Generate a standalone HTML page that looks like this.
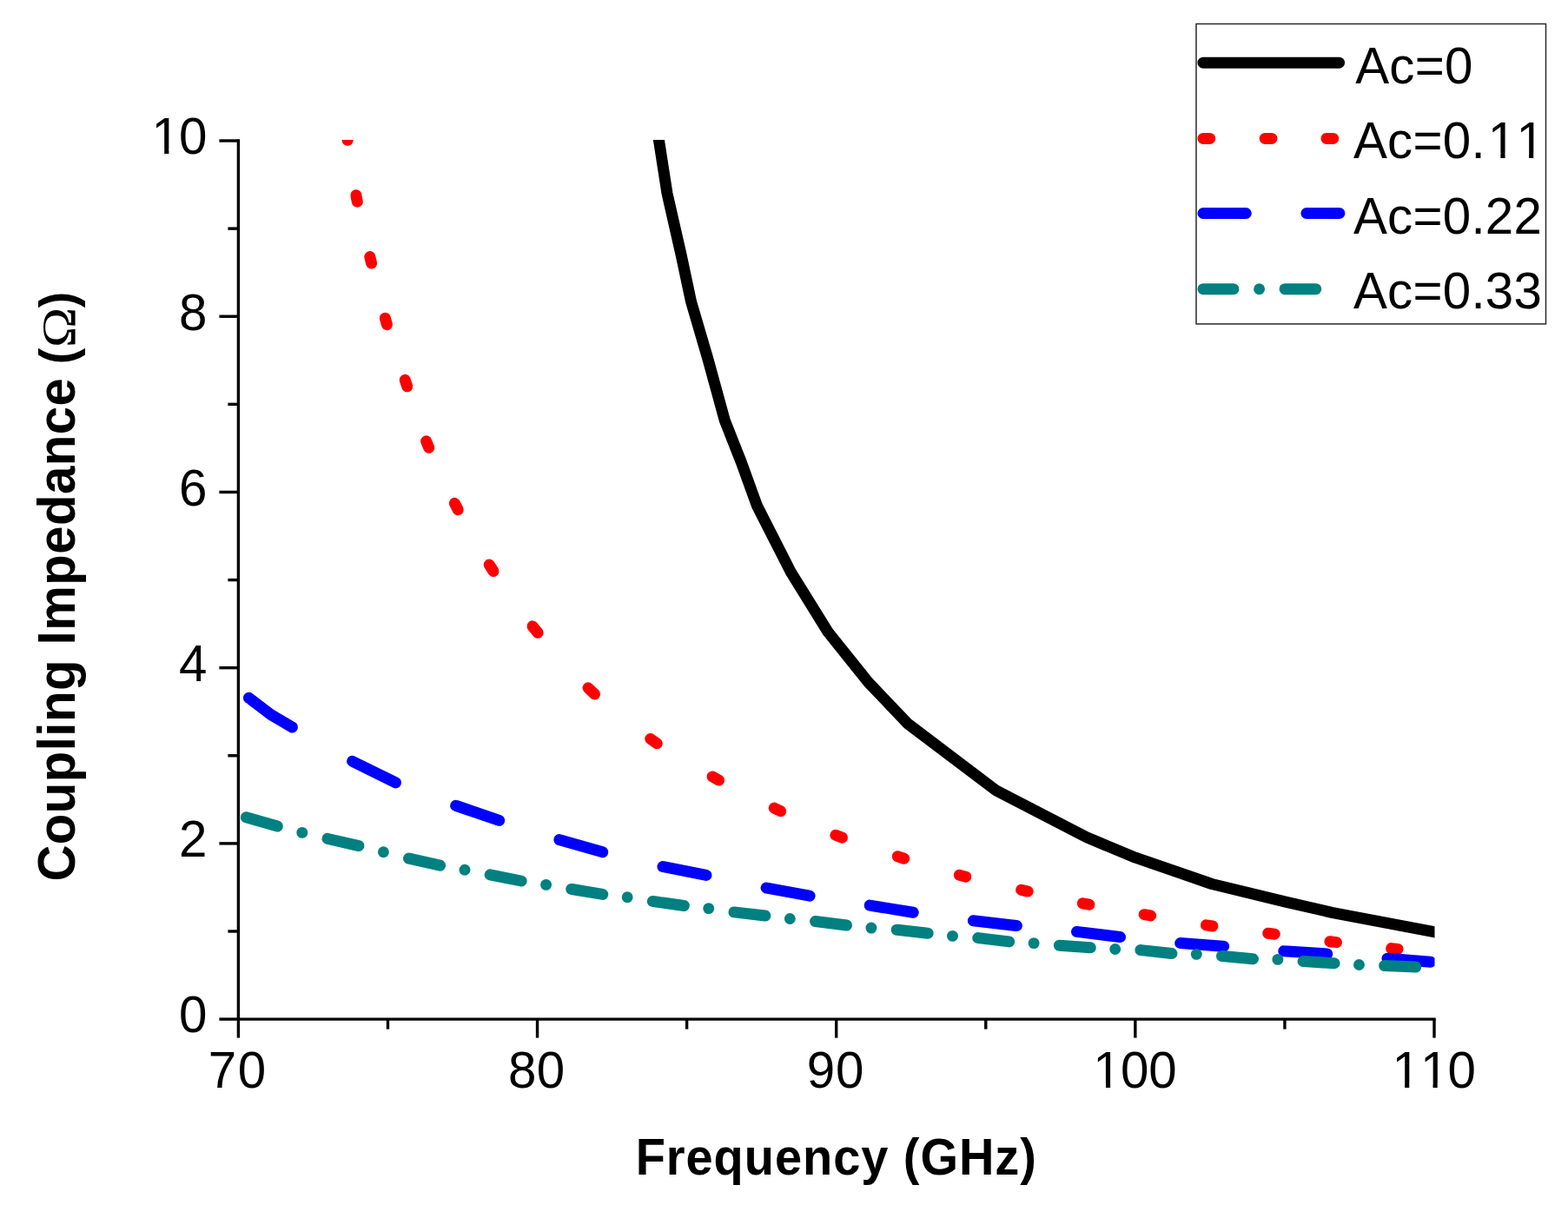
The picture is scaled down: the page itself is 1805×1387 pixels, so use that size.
<!DOCTYPE html>
<html lang="en"><head><meta charset="utf-8"><title>Coupling Impedance vs Frequency</title>
<style>html,body{margin:0;padding:0;background:#fff;}body{width:1805px;height:1387px;overflow:hidden;}svg{display:block;}text{font-family:"Liberation Sans",sans-serif;fill:#000;font-kerning:none;font-variant-ligatures:none;}.b{font-weight:bold;}.om{font-family:"Liberation Serif",serif;font-weight:normal;}</style></head><body>
<svg width="1805" height="1387" viewBox="0 0 1805 1387">
<rect x="0" y="0" width="1805" height="1387" fill="#fff"/>
<defs><clipPath id="plot"><rect x="274.4" y="161" width="1377.1" height="1012.1"/></clipPath></defs>
<g clip-path="url(#plot)" fill="none" stroke-linejoin="round">
<polyline stroke="#000" stroke-width="13" points="752,120 758.4,161 767.9,222.1 784.3,294.2 795.5,347 814.6,412.1 834.4,484.2 853.3,532 871.4,582 910.3,658.4 953,727.2 999.5,785.3 1045,833 1146,909.4 1250.9,963.8 1307.1,987.2 1395,1017.5 1480,1038.1 1533,1050.3 1660,1074.4"/>
<g stroke="#f00" stroke-width="13" stroke-linecap="round">
<line x1="398.91" y1="153.85" x2="400.09" y2="161.35"/>
<line x1="409.88" y1="224.65" x2="411.32" y2="232.15"/>
<line x1="425.8" y1="295.55" x2="427.6" y2="303.05"/>
<line x1="443.32" y1="366.15" x2="445.48" y2="373.65"/>
<line x1="466.24" y1="437.35" x2="468.76" y2="444.85"/>
<line x1="490.67" y1="507.85" x2="493.73" y2="515.35"/>
<line x1="523.36" y1="579.35" x2="527.24" y2="586.85"/>
<line x1="563.19" y1="650.05" x2="568.01" y2="657.55"/>
<line x1="613.05" y1="720.85" x2="619.15" y2="728.35"/>
<line x1="677.05" y1="791.87" x2="684.55" y2="798.93"/>
<line x1="748.75" y1="850.46" x2="756.25" y2="855.74"/>
<line x1="820.05" y1="893.92" x2="827.55" y2="898.08"/>
<line x1="891.15" y1="930.14" x2="898.65" y2="933.66"/>
<line x1="961.95" y1="961.25" x2="969.45" y2="964.15"/>
<line x1="1033.25" y1="985.8" x2="1040.75" y2="988.2"/>
<line x1="1104.35" y1="1007.19" x2="1111.85" y2="1009.21"/>
<line x1="1175.65" y1="1024.35" x2="1183.15" y2="1026.05"/>
<line x1="1246.35" y1="1039.76" x2="1253.85" y2="1041.24"/>
<line x1="1317.15" y1="1052.64" x2="1324.65" y2="1053.96"/>
<line x1="1388.45" y1="1064.84" x2="1395.95" y2="1065.96"/>
<line x1="1459.75" y1="1074.21" x2="1467.25" y2="1075.19"/>
<line x1="1530.95" y1="1083.74" x2="1538.45" y2="1084.66"/>
<line x1="1601.65" y1="1091.59" x2="1609.15" y2="1092.41"/>
</g>
<g stroke="#00f" stroke-width="13" stroke-linecap="round">
<polyline points="286.4,803.3 286.6,803.3 311.9,822.7 336.1,836.8 336.4,836.97"/>
<polyline points="405.54,876.27 455.54,900.87"/>
<polyline points="524.68,927.26 525.3,927.5 574.68,944.32"/>
<polyline points="643.82,966.61 644.4,966.8 693.82,980.82"/>
<polyline points="762.96,997.5 763.8,997.7 812.96,1007.39"/>
<polyline points="882.1,1022.05 882.8,1022.2 932.1,1031.15"/>
<polyline points="1001.24,1042.12 1051.24,1050.26"/>
<polyline points="1120.38,1059.74 1169.8,1065.5 1170.38,1065.56"/>
<polyline points="1239.52,1072.41 1289.2,1078.5 1289.52,1078.53"/>
<polyline points="1358.66,1085.6 1408,1089.3 1408.66,1089.35"/>
<polyline points="1477.8,1094.69 1477.9,1094.7 1527.2,1097.9 1527.8,1097.95"/>
<polyline points="1596.94,1103.3 1646.94,1107.18"/>
</g>
<g stroke="#008080" stroke-width="13" stroke-linecap="round">
<polyline points="283.4,940.8 319.4,951.06"/>
<circle cx="347.8" cy="958.4" r="6.45" fill="#008080" stroke="none"/>
<polyline points="376.99,965.38 377.5,965.5 412.99,973.56"/>
<circle cx="441.39" cy="980.77" r="6.45" fill="#008080" stroke="none"/>
<polyline points="470.58,988.12 470.9,988.2 506.58,996.2"/>
<circle cx="534.98" cy="1001.28" r="6.45" fill="#008080" stroke="none"/>
<polyline points="564.17,1006.85 600,1014 600.17,1014.03"/>
<circle cx="628.57" cy="1018.33" r="6.45" fill="#008080" stroke="none"/>
<polyline points="657.76,1023.39 658.4,1023.5 693.76,1029.41"/>
<circle cx="722.16" cy="1032.74" r="6.45" fill="#008080" stroke="none"/>
<polyline points="751.35,1037.41 751.9,1037.5 787.35,1042.46"/>
<circle cx="815.75" cy="1045.65" r="6.45" fill="#008080" stroke="none"/>
<polyline points="844.94,1049.9 880.6,1054 880.94,1054.04"/>
<circle cx="909.34" cy="1057.49" r="6.45" fill="#008080" stroke="none"/>
<polyline points="938.53,1060.53 974.53,1065.03"/>
<circle cx="1002.93" cy="1068.07" r="6.45" fill="#008080" stroke="none"/>
<polyline points="1032.12,1070.23 1033.1,1070.3 1068.1,1074.2 1068.12,1074.2"/>
<circle cx="1096.52" cy="1077.34" r="6.45" fill="#008080" stroke="none"/>
<polyline points="1125.71,1079.57 1126.1,1079.6 1161.71,1083.89"/>
<circle cx="1190.11" cy="1085.59" r="6.45" fill="#008080" stroke="none"/>
<polyline points="1219.3,1088.21 1255.2,1090.8 1255.3,1090.81"/>
<circle cx="1283.7" cy="1092.48" r="6.45" fill="#008080" stroke="none"/>
<polyline points="1312.89,1093.57 1313.6,1093.6 1348.89,1097.46"/>
<circle cx="1377.29" cy="1098.37" r="6.45" fill="#008080" stroke="none"/>
<polyline points="1406.48,1100.45 1407.2,1100.5 1442.2,1103.8 1442.48,1103.81"/>
<circle cx="1470.88" cy="1104.39" r="6.45" fill="#008080" stroke="none"/>
<polyline points="1500.07,1106.56 1500.6,1106.6 1535.6,1108.7 1536.07,1108.73"/>
<circle cx="1564.47" cy="1110.5" r="6.45" fill="#008080" stroke="none"/>
<polyline points="1593.66,1111.5 1629.66,1113.09"/>
</g>
</g>
<g stroke="#000" stroke-width="3.4" stroke-linecap="butt" fill="none">
<line x1="274.4" y1="160.3" x2="274.4" y2="1174.8"/>
<line x1="272.7" y1="1173.1" x2="1652.7" y2="1173.1"/>
<line x1="252.4" y1="1173.1" x2="274.4" y2="1173.1"/>
<line x1="262.4" y1="1071.99" x2="274.4" y2="1071.99"/>
<line x1="252.4" y1="970.88" x2="274.4" y2="970.88"/>
<line x1="262.4" y1="869.77" x2="274.4" y2="869.77"/>
<line x1="252.4" y1="768.66" x2="274.4" y2="768.66"/>
<line x1="262.4" y1="667.55" x2="274.4" y2="667.55"/>
<line x1="252.4" y1="566.44" x2="274.4" y2="566.44"/>
<line x1="262.4" y1="465.33" x2="274.4" y2="465.33"/>
<line x1="252.4" y1="364.22" x2="274.4" y2="364.22"/>
<line x1="262.4" y1="263.11" x2="274.4" y2="263.11"/>
<line x1="252.4" y1="162" x2="274.4" y2="162"/>
<line x1="274.4" y1="1173.1" x2="274.4" y2="1194.6"/>
<line x1="446.47" y1="1173.1" x2="446.47" y2="1184.6"/>
<line x1="618.55" y1="1173.1" x2="618.55" y2="1194.6"/>
<line x1="790.62" y1="1173.1" x2="790.62" y2="1184.6"/>
<line x1="962.7" y1="1173.1" x2="962.7" y2="1194.6"/>
<line x1="1134.78" y1="1173.1" x2="1134.78" y2="1184.6"/>
<line x1="1306.85" y1="1173.1" x2="1306.85" y2="1194.6"/>
<line x1="1478.93" y1="1173.1" x2="1478.93" y2="1184.6"/>
<line x1="1651" y1="1173.1" x2="1651" y2="1194.6"/>
</g>
<text style="font-size:58.3px" transform="translate(0 1188.4) scale(1 1.01)" x="205.98" y="0">0</text>
<text style="font-size:58.3px" transform="translate(0 986.18) scale(1 1.01)" x="205.98" y="0">2</text>
<text style="font-size:58.3px" transform="translate(0 783.96) scale(1 1.01)" x="205.98" y="0">4</text>
<text style="font-size:58.3px" transform="translate(0 581.74) scale(1 1.01)" x="205.98" y="0">6</text>
<text style="font-size:58.3px" transform="translate(0 379.52) scale(1 1.01)" x="205.98" y="0">8</text>
<text style="font-size:58.3px" transform="translate(0 177.3) scale(1 1.01)" x="174.55 205.98" y="0">10</text>
<text style="font-size:58.3px" transform="translate(0 1252.4) scale(1 1.01)" x="239.78 273.7" y="0">70</text>
<text style="font-size:58.3px" transform="translate(0 1252.4) scale(1 1.01)" x="585.03 617.85" y="0">80</text>
<text style="font-size:58.3px" transform="translate(0 1252.4) scale(1 1.01)" x="928.68 962" y="0">90</text>
<text style="font-size:58.3px" transform="translate(0 1252.4) scale(1 1.01)" x="1258.31 1289.94 1322.36" y="0">100</text>
<text style="font-size:58.3px" transform="translate(0 1252.4) scale(1 1.01)" x="1602.46 1634.89 1666.51" y="0">110</text>
<text class="b" style="font-size:56px;letter-spacing:0.95px" transform="translate(731.65 1351.5) scale(1 1.068)">Frequency (GHz)</text>
<text class="b" style="font-size:58.1px;letter-spacing:0.48px" transform="translate(85.9 1014.6) rotate(-90) scale(1 1.04)">Coupling Impedance <tspan x="595.23" style="font-size:55.6px;letter-spacing:0">(</tspan><tspan class="om" x="614.5" textLength="46.28" lengthAdjust="spacingAndGlyphs" style="font-size:53.46px;letter-spacing:0">Ω</tspan><tspan x="660.45" style="font-size:55.6px;letter-spacing:0">)</tspan></text>
<rect x="1377" y="27.5" width="402.5" height="345.4" fill="#fff" stroke="#2a2a2a" stroke-width="1.5"/>
<g stroke-width="13" stroke-linecap="round" fill="none">
<line stroke="#000" x1="1385" y1="72.2" x2="1541.5" y2="72.2"/>
<line stroke="#f00" x1="1385" y1="159.4" x2="1392.7" y2="159.4"/>
<line stroke="#f00" x1="1456.2" y1="159.4" x2="1463.9" y2="159.4"/>
<line stroke="#f00" x1="1527" y1="159.4" x2="1534.7" y2="159.4"/>
<line stroke="#00f" x1="1385" y1="245.5" x2="1434.3" y2="245.5"/>
<line stroke="#00f" x1="1503.9" y1="245.5" x2="1541.9" y2="245.5"/>
<line stroke="#008080" x1="1385" y1="332.7" x2="1419.9" y2="332.7"/>
<circle cx="1449.6" cy="332.7" r="6.45" fill="#008080" stroke="none"/>
<line stroke="#008080" x1="1479.1" y1="332.7" x2="1514.7" y2="332.7"/>
</g>
<text style="font-size:58.3px" transform="translate(0 95.8) scale(1 1.03)" x="1560.19 1599.32 1628.72 1663.02" y="0">Ac=0</text>
<text style="font-size:58.3px" transform="translate(0 182.3) scale(1 1.03)" x="1557.89 1597.02 1626.42 1660.72 1693.39 1712.74 1745.41" y="0">Ac=0.11</text>
<text style="font-size:58.3px" transform="translate(0 269.1) scale(1 1.03)" x="1557.89 1597.02 1626.42 1660.72 1693.39 1709.84 1742.51" y="0">Ac=0.22</text>
<text style="font-size:58.3px" transform="translate(0 355.3) scale(1 1.03)" x="1557.89 1597.02 1626.42 1660.72 1693.39 1709.84 1742.51" y="0">Ac=0.33</text>
<g fill="#fff"><rect x="177.19" y="171.6" width="12.02" height="6.9"/><rect x="194.37" y="171.6" width="11.56" height="6.9"/><rect x="1260.96" y="1246.7" width="12.02" height="6.9"/><rect x="1278.13" y="1246.7" width="11.56" height="6.9"/><rect x="1605.11" y="1246.7" width="12.02" height="6.9"/><rect x="1622.28" y="1246.7" width="11.56" height="6.9"/><rect x="1637.53" y="1246.7" width="12.02" height="6.9"/><rect x="1654.7" y="1246.7" width="11.56" height="6.9"/><rect x="1715.38" y="176.51" width="12.02" height="6.99"/><rect x="1732.55" y="176.51" width="11.56" height="6.99"/><rect x="1748.05" y="176.51" width="12.02" height="6.99"/><rect x="1765.23" y="176.51" width="11.56" height="6.99"/></g>
</svg></body></html>
